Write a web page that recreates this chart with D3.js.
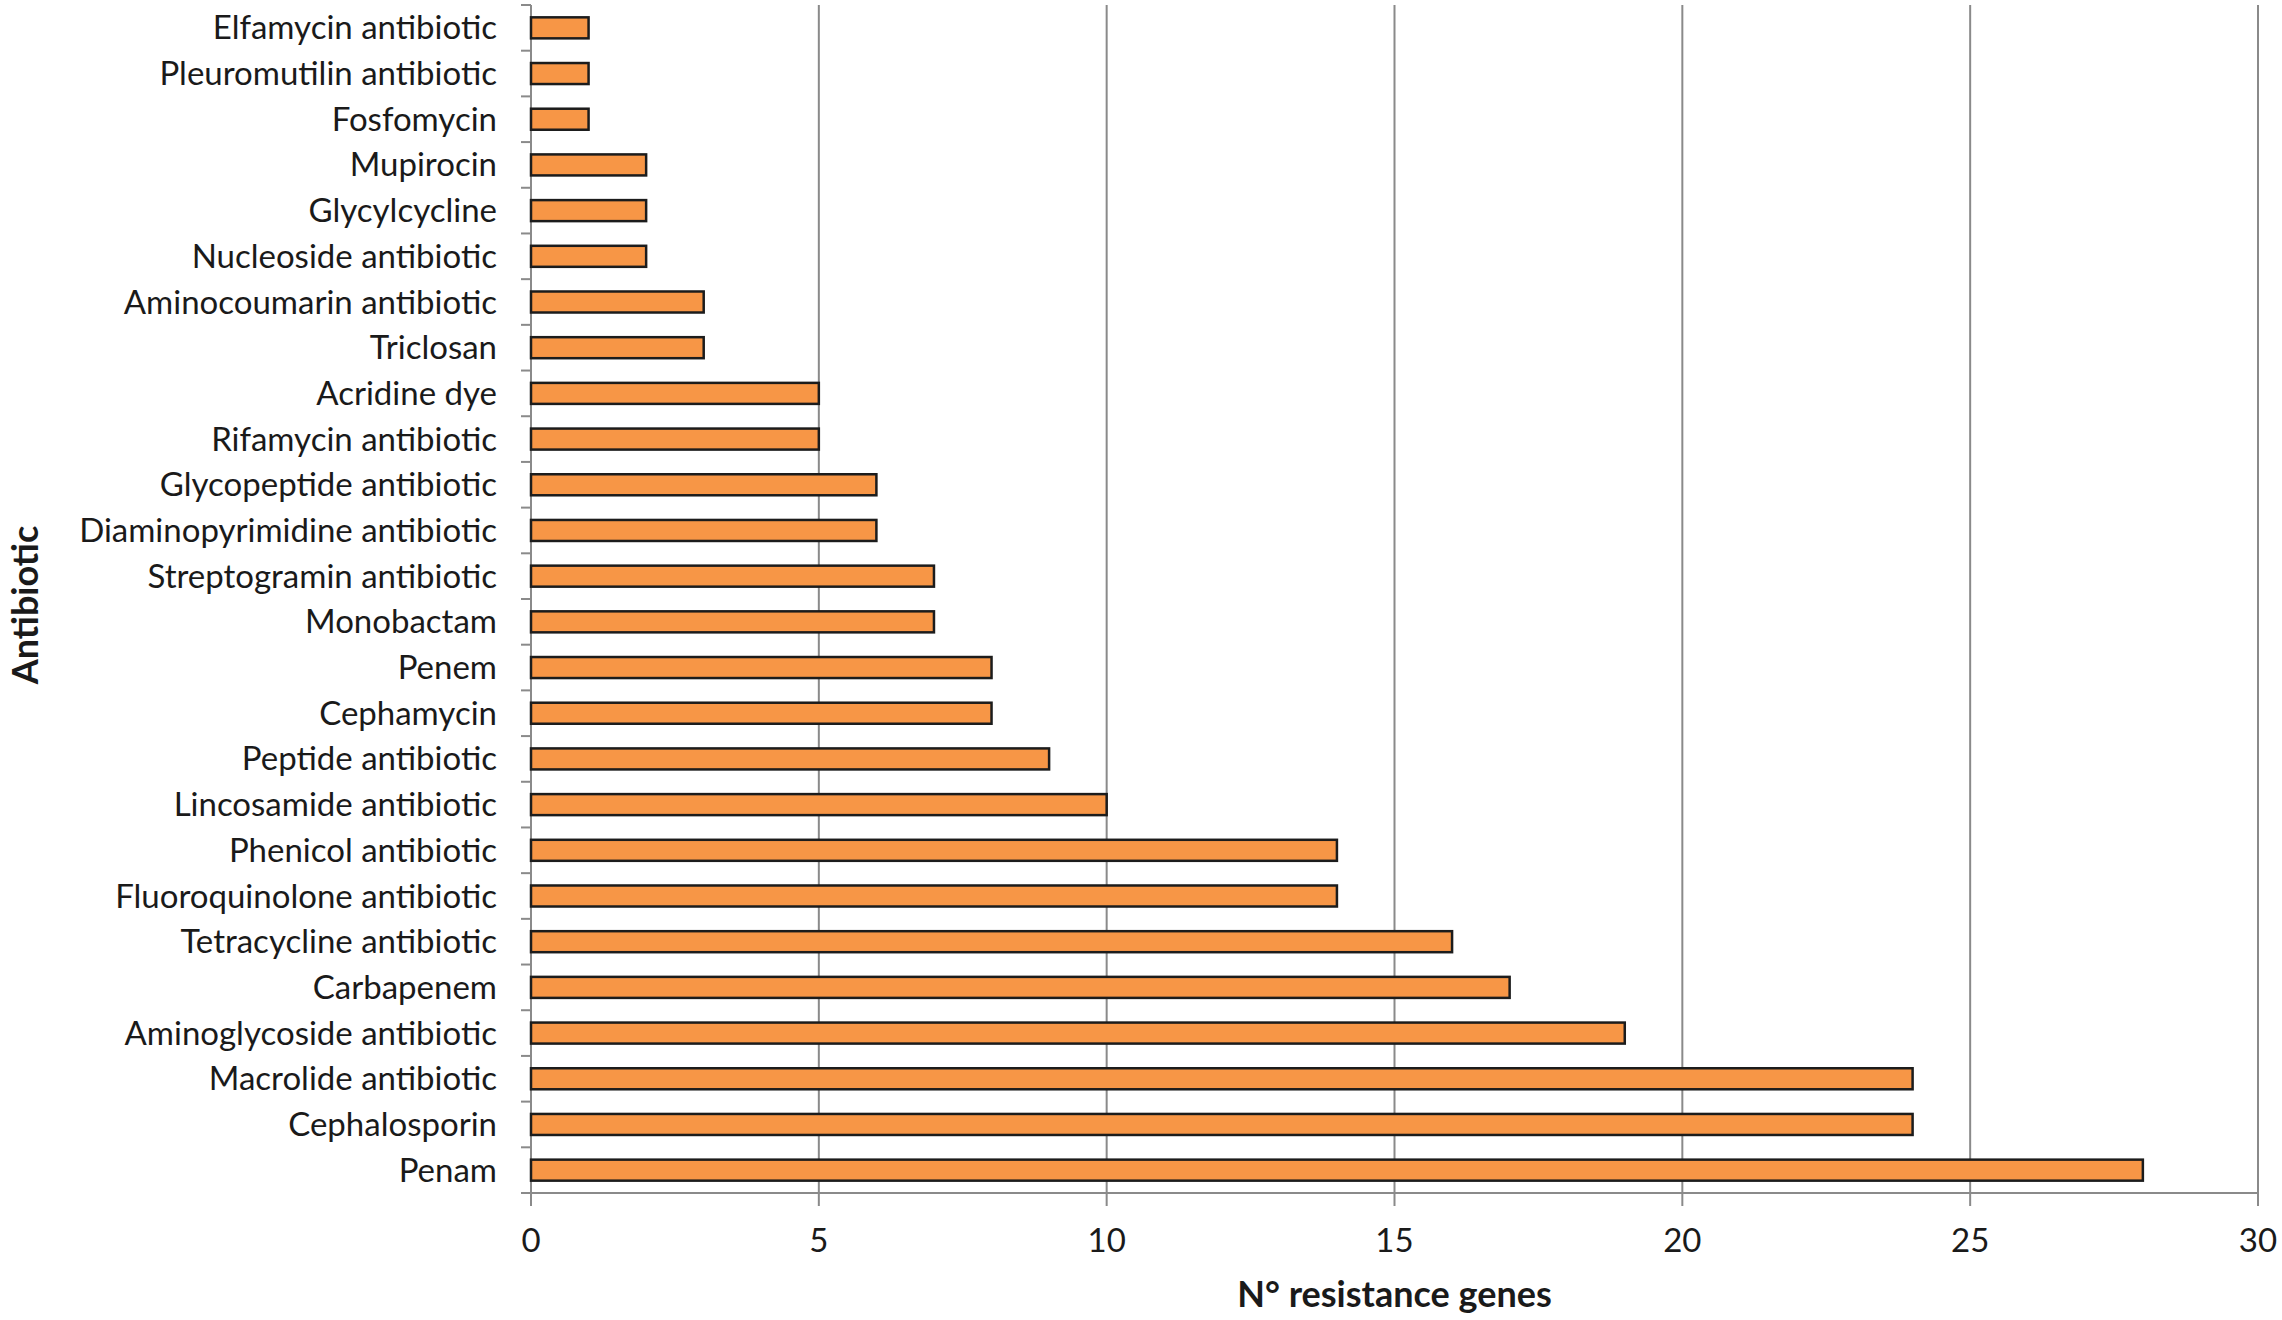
<!DOCTYPE html>
<html>
<head>
<meta charset="utf-8">
<script src="https://cdn.jsdelivr.net/npm/d3@7"></script>
<style>
  html, body { margin: 0; padding: 0; background: #fff; }
  svg { display: block; font-family: Lato, "Open Sans", sans-serif; }
</style>
</head>
<body>
<script>
// categories top to bottom, as in the figure
const categories = [
  "Elfamycin antibiotic", "Pleuromutilin antibiotic", "Fosfomycin", "Mupirocin",
  "Glycylcycline", "Nucleoside antibiotic", "Aminocoumarin antibiotic", "Triclosan",
  "Acridine dye", "Rifamycin antibiotic", "Glycopeptide antibiotic",
  "Diaminopyrimidine antibiotic", "Streptogramin antibiotic", "Monobactam", "Penem",
  "Cephamycin", "Peptide antibiotic", "Lincosamide antibiotic", "Phenicol antibiotic",
  "Fluoroquinolone antibiotic", "Tetracycline antibiotic", "Carbapenem",
  "Aminoglycoside antibiotic", "Macrolide antibiotic", "Cephalosporin", "Penam"
];
const genes = [1, 1, 1, 2, 2, 2, 3, 3, 5, 5, 6, 6, 7, 7, 8, 8, 9, 10, 14, 14, 16, 17, 19, 24, 24, 28];
const xTicks = [0, 5, 10, 15, 20, 25, 30];

const width = 2282, height = 1320;
const plot = {left: 531, right: 2258, top: 5, bottom: 1193};
const grid = "#8a8a8a";

const data = categories.map((c, i) => ({name: c, value: genes[i]}));

const x = d3.scaleLinear().domain([0, 30]).range([plot.left, plot.right]);
const y = d3.scaleBand().domain(categories).range([plot.top, plot.bottom])
    .paddingInner(0.54).paddingOuter(0.27);

const svg = d3.select("body").append("svg")
    .attr("width", width)
    .attr("height", height);

// vertical gridlines (also the y axis at 0), running just past the baseline
svg.append("g")
    .attr("stroke", grid)
    .attr("stroke-width", 2)
  .selectAll("line")
  .data(xTicks)
  .join("line")
    .attr("x1", d => x(d)).attr("x2", d => x(d))
    .attr("y1", plot.top).attr("y2", plot.bottom + 13);

// baseline
svg.append("line")
    .attr("x1", plot.left - 10).attr("x2", plot.right)
    .attr("y1", plot.bottom).attr("y2", plot.bottom)
    .attr("stroke", grid)
    .attr("stroke-width", 2);

// category ticks between bands, to the left of the axis
const step = y.step();
const bounds = d3.range(categories.length).map(i => plot.top + i * step);
svg.append("g")
    .attr("stroke", grid)
    .attr("stroke-width", 2)
  .selectAll("line")
  .data(bounds)
  .join("line")
    .attr("x1", plot.left - 10).attr("x2", plot.left)
    .attr("y1", d => d).attr("y2", d => d);

// bars
svg.append("g")
  .selectAll("rect")
  .data(data)
  .join("rect")
    .attr("x", x(0))
    .attr("y", d => y(d.name))
    .attr("width", d => x(d.value) - x(0))
    .attr("height", y.bandwidth())
    .attr("fill", "#f79646")
    .attr("stroke", "#1c1c1c")
    .attr("stroke-width", 2.5);

// category labels
svg.append("g")
    .attr("font-size", 33)
    .attr("fill", "#1a1a1a")
    .attr("text-anchor", "end")
  .selectAll("text")
  .data(categories)
  .join("text")
    .attr("x", plot.left - 34)
    .attr("y", d => y(d) + y.bandwidth() / 2)
    .attr("dy", "0.35em")
    .text(d => d);

// x tick labels
svg.append("g")
    .attr("font-size", 33)
    .attr("fill", "#1a1a1a")
    .attr("text-anchor", "middle")
  .selectAll("text")
  .data(xTicks)
  .join("text")
    .attr("x", d => x(d))
    .attr("y", 1240)
    .attr("dy", "0.35em")
    .text(d => d);

// axis titles
svg.append("text")
    .attr("x", (plot.left + plot.right) / 2)
    .attr("y", 1307)
    .attr("text-anchor", "middle")
    .attr("font-size", 36)
    .attr("font-weight", "bold")
    .attr("fill", "#1a1a1a")
    .text("N° resistance genes");

svg.append("text")
    .attr("transform", "translate(25,605) rotate(-90)")
    .attr("text-anchor", "middle")
    .attr("dy", "0.35em")
    .attr("font-size", 36)
    .attr("font-weight", "bold")
    .attr("fill", "#1a1a1a")
    .text("Antibiotic");
</script>
</body>
</html>
